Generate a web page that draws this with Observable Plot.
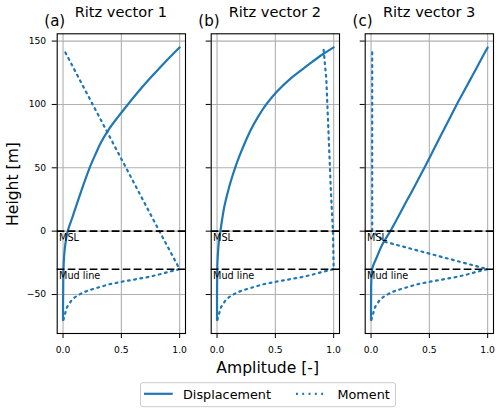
<!DOCTYPE html>
<html>
<head>
<meta charset="utf-8">
<script src="https://cdn.jsdelivr.net/npm/d3@7"></script>
<script src="https://cdn.jsdelivr.net/npm/@observablehq/plot@0.6"></script>
<style>
  body { margin: 0; background: #fff; }
  #wrap { position: relative; width: 500px; height: 413px; overflow: hidden; background: #fff; font-family: "DejaVu Sans", sans-serif; }
  #wrap > svg { position: absolute; top: 0; }
</style>
</head>
<body>
<div id="wrap"></div>
<script>
// ---------- data ----------
const panelTitles = ["Ritz vector 1", "Ritz vector 2", "Ritz vector 3"];
const panelLetters = ["(a)", "(b)", "(c)"];
const seriesNames = ["Displacement", "Moment"];

const dispHeights = [-70, -60, -50, -40, -30, -20, -10, 0, 10, 20, 30, 40, 50, 60, 70, 80, 90, 100, 110, 120, 130, 140, 145];
const dispA = [0, 0, 0.001, 0.002, 0.004, 0.009, 0.02, 0.04, 0.077, 0.113, 0.15, 0.188, 0.228, 0.275, 0.325, 0.39, 0.47, 0.556, 0.645, 0.74, 0.84, 0.945, 1.0];
const dispB = [0, 0, 0, 0.001, 0.002, 0.006, 0.014, 0.029, 0.045, 0.064, 0.09, 0.12, 0.155, 0.195, 0.24, 0.29, 0.35, 0.422, 0.512, 0.625, 0.765, 0.913, 1.0];
const dispC = [0, 0, 0.0005, 0.002, 0.01, 0.052, 0.1, 0.165, 0.225, 0.283, 0.342, 0.4, 0.458, 0.513, 0.568, 0.624, 0.68, 0.735, 0.794, 0.853, 0.912, 0.97, 1.0];

// moment below the mud line (pile part)
const pileHeights = [-70, -65, -60, -55, -52, -50, -48, -46, -44, -42, -40, -38, -36, -34, -32, -30];
const pileMoment = [0.003, 0.018, 0.034, 0.07, 0.104, 0.14, 0.18, 0.245, 0.32, 0.39, 0.5, 0.62, 0.74, 0.83, 0.91, 1.0];
// moment above the mud line
const momentTopHeightsA = [0, 141];
const momentTopA = [0.826, 0.02];
const momentTopHeightsB = [0, 30, 75, 120, 143];
const momentTopB = [0.994, 0.977, 0.957, 0.937, 0.914];
const momentTopHeightsC = [-8.4, 0, 144];
const momentTopC = [0.12, 0.01, 0.01];

const levelValues = [0, -30];
const levelLabels = ["MSL", "Mud line"];

const xTicks = [0, 0.5, 1.0];
const yTicks = [-50, 0, 50, 100, 150];

// ---------- build ----------
const rows = (hs, vs) => hs.map((h, i) => ({ h, v: vs[i] }));
const panels = [
  { disp: rows(dispHeights, dispA), moment: rows(pileHeights.concat(momentTopHeightsA), pileMoment.concat(momentTopA)) },
  { disp: rows(dispHeights, dispB), moment: rows(pileHeights.concat(momentTopHeightsB), pileMoment.concat(momentTopB)) },
  { disp: rows(dispHeights, dispC), moment: rows(pileHeights.concat(momentTopHeightsC), pileMoment.concat(momentTopC)) }
];

const BLUE = "#1f77b4";
const LW = 2.2;
const DOTS = "1.9,4.4";
const W = 190, H = 360, ML = 56.7, MR = 5, MT = 33.3, MB = 27;
const offsets = [0, 154, 308.3];
const wrap = document.getElementById("wrap");

panels.forEach((p, i) => {
  const levels = levelLabels.map((t, k) => ({ t, y: levelValues[k] }));
  const chart = Plot.plot({
    width: W, height: H,
    marginLeft: ML, marginRight: MR, marginTop: MT, marginBottom: MB,
    x: { domain: [-0.05, 1.05] },
    y: { domain: [-80.75, 155.75] },
    style: { background: "transparent", overflow: "visible", fontFamily: "DejaVu Sans", fontSize: "9.2px", color: "black" },
    marks: [
      Plot.gridX(xTicks, { stroke: "#b0b0b0", strokeOpacity: 1, strokeWidth: 1.1 }),
      Plot.gridY(yTicks, { stroke: "#b0b0b0", strokeOpacity: 1, strokeWidth: 1.1 }),
      Plot.line(p.disp, { x: "v", y: "h", stroke: BLUE, strokeWidth: LW, curve: "monotone-y" }),
      Plot.line(p.moment, { x: "v", y: "h", stroke: BLUE, strokeWidth: LW, strokeDasharray: DOTS }),
      Plot.ruleY(levelValues, { stroke: "black", strokeWidth: 1.6, strokeDasharray: "7.7,3.3" }),
      Plot.text(levels, { x: () => -0.034, y: "y", text: "t", textAnchor: "start", lineAnchor: "top", dy: 2.5, fontSize: 9.7, fill: "black" }),
      Plot.frame({ stroke: "black", strokeWidth: 1.1 }),
      Plot.axisX(xTicks, { tickFormat: d3.format(".1f"), tickSize: 5, tickPadding: 8, label: null }),
      Plot.axisY(yTicks, { tickFormat: i === 0 ? (d => d3.format("")(d).replace("-", "\u2212")) : (() => ""), tickSize: 5, tickPadding: 6, label: null })
    ]
  });
  chart.style.left = offsets[i] + "px";
  wrap.appendChild(chart);
});

// ---------- titles, axis labels, legend ----------
const ns = "http://www.w3.org/2000/svg";
const ov = document.createElementNS(ns, "svg");
ov.setAttribute("width", 500);
ov.setAttribute("height", 413);
ov.style.left = "0px";
ov.style.fontFamily = "DejaVu Sans";
function txt(s, x, y, size, anchor, extra) {
  const t = document.createElementNS(ns, "text");
  t.textContent = s;
  t.setAttribute("x", x);
  t.setAttribute("y", y);
  t.setAttribute("font-size", size);
  t.setAttribute("text-anchor", anchor || "start");
  t.setAttribute("fill", "black");
  if (extra) for (const k in extra) t.setAttribute(k, extra[k]);
  ov.appendChild(t);
  return t;
}
panelTitles.forEach((s, i) => {
  const cx = offsets[i] + ML + (W - ML - MR) / 2;
  txt(s, cx, 17.3, 14.6, "middle");
  txt(panelLetters[i], offsets[i] + 44.3, 26.3, 15, "start");
});
txt("Amplitude [-]", 267.7, 373.3, 15.6, "middle");
txt("Height [m]", 0, 0, 15.6, "middle", { transform: "translate(17.5,184) rotate(-90)" });

// legend
const box = document.createElementNS(ns, "rect");
box.setAttribute("x", 140.5); box.setAttribute("y", 382.7);
box.setAttribute("width", 255); box.setAttribute("height", 24);
box.setAttribute("rx", 2.5);
box.setAttribute("fill", "white"); box.setAttribute("fill-opacity", 0.8);
box.setAttribute("stroke", "#cccccc"); box.setAttribute("stroke-width", 1);
ov.appendChild(box);
function seg(x1, x2, y, dash) {
  const l = document.createElementNS(ns, "line");
  l.setAttribute("x1", x1); l.setAttribute("x2", x2);
  l.setAttribute("y1", y); l.setAttribute("y2", y);
  l.setAttribute("stroke", BLUE); l.setAttribute("stroke-width", LW);
  if (dash) l.setAttribute("stroke-dasharray", dash);
  ov.appendChild(l);
}
seg(144, 172.7, 393.8, null);
txt(seriesNames[0], 183, 398.5, 12.8, "start");
seg(296, 326.5, 393.8, DOTS);
txt(seriesNames[1], 337.5, 398.5, 12.8, "start");
wrap.appendChild(ov);
</script>
</body>
</html>
